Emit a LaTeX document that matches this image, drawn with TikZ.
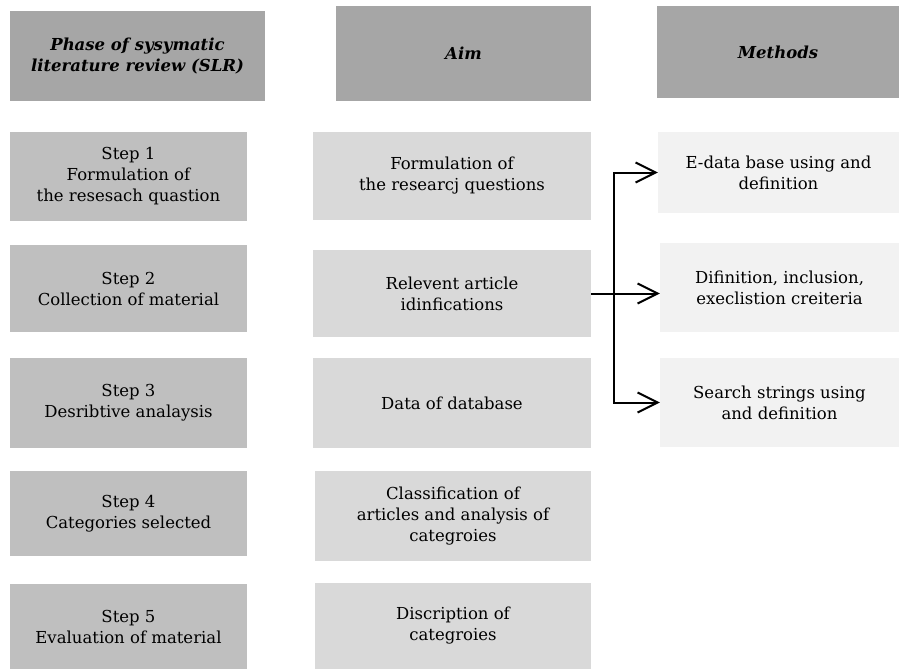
\documentclass[tikz,border=0pt]{standalone}
\usepackage{fontspec}
\setmainfont{DejaVu Serif}
\usetikzlibrary{arrows.meta}
\definecolor{hdr}{HTML}{A6A6A6}
\definecolor{stp}{HTML}{BFBFBF}
\definecolor{aimc}{HTML}{D9D9D9}
\definecolor{meth}{HTML}{F2F2F2}
\tikzset{
  box/.style={rectangle, inner sep=0pt, align=center, text=black,
    font=\fontsize{16.5}{21}\selectfont},
  hbox/.style={box, fill=hdr, font=\fontsize{16.5}{21}\selectfont\bfseries\itshape},
  sbox/.style={box, fill=stp},
  abox/.style={box, fill=aimc},
  mbox/.style={box, fill=meth},
  conn/.style={line width=2pt, draw=black},
  arr/.style={conn, -{Straight Barb[length=20pt,width=20pt,line width=2pt]}}
}
\begin{document}
\begin{tikzpicture}[x=1pt,y=-1pt]
\useasboundingbox (0,0) rectangle (899,669);
% headers
\node[hbox, minimum width=255, minimum height=89.6] (h1) at (137.5,55.8) {Phase of sysymatic\\literature review (SLR)};
\node[hbox, minimum width=255, minimum height=95] (h2) at (463.5,53.5) {Aim};
\node[hbox, minimum width=242, minimum height=92] (h3) at (778,52) {Methods};
% steps
\node[sbox, minimum width=237, minimum height=89] (s1) at (128.5,176.5) {Step 1\\Formulation of\\the resesach quastion};
\node[sbox, minimum width=237, minimum height=87] (s2) at (128.5,288.5) {Step 2\\Collection of material};
\node[sbox, minimum width=237, minimum height=90] (s3) at (128.5,403) {Step 3\\Desribtive analaysis};
\node[sbox, minimum width=237, minimum height=85] (s4) at (128.5,513.5) {Step 4\\Categories selected};
\node[sbox, minimum width=237, minimum height=85] (s5) at (128.5,626.5) {Step 5\\Evaluation of material};
% aims
\node[abox, minimum width=278, minimum height=88] (a1) at (452,176) {Formulation of\\the researcj questions};
\node[abox, minimum width=278, minimum height=87] (a2) at (452,293.5) {Relevent article\\idinfications};
\node[abox, minimum width=278, minimum height=90] (a3) at (452,403) {Data of database};
\node[abox, minimum width=276, minimum height=90] (a4) at (453,516) {Classification of\\articles and analysis of\\categroies};
\node[abox, minimum width=276, minimum height=86] (a5) at (453,626) {Discription of\\categroies};
% methods
\node[mbox, minimum width=241, minimum height=81] (m1) at (778.5,172.5) {E-data base using and\\definition};
\node[mbox, minimum width=239, minimum height=89] (m2) at (779.5,287.5) {Difinition, inclusion,\\execlistion creiteria};
\node[mbox, minimum width=239, minimum height=89] (m3) at (779.5,402.5) {Search strings using\\and definition};
% connectors
\coordinate (j) at (614,293.5);
\draw[arr] (a2.east) -- (a2.east -| m2.west);
\draw[arr] (j) |- (m1.west);
\draw[arr] (j) |- (m3.west);
\end{tikzpicture}
\end{document}
